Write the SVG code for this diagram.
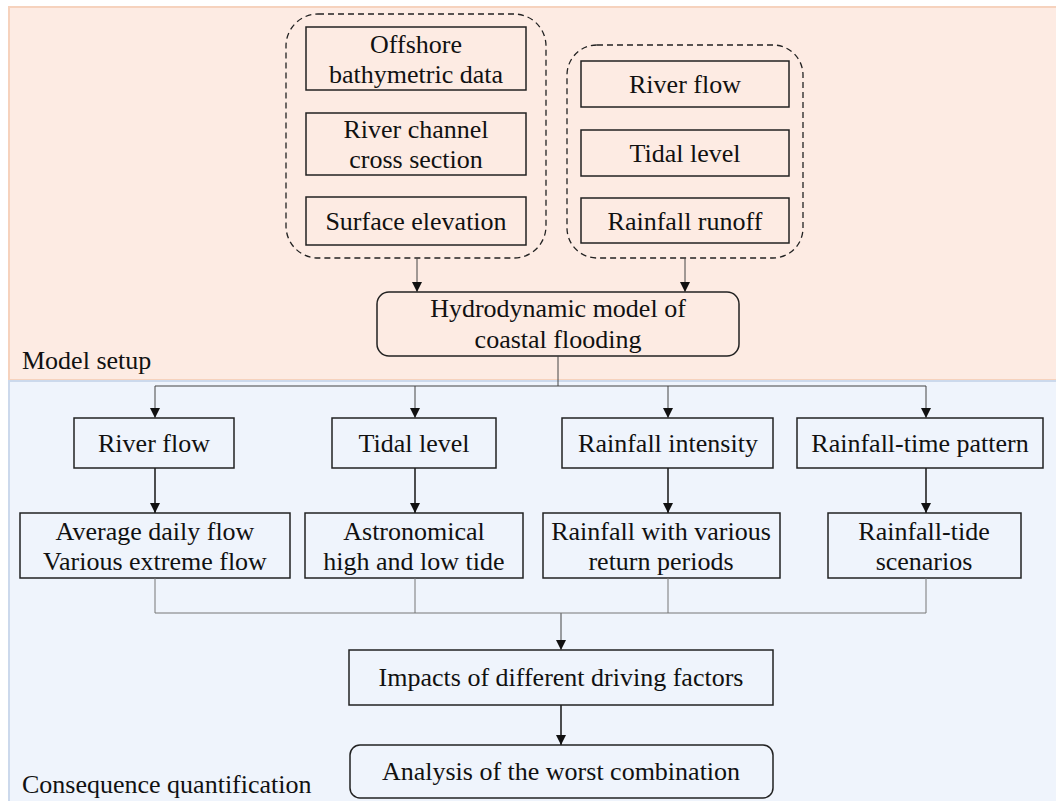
<svg xmlns="http://www.w3.org/2000/svg" width="1056" height="801" viewBox="0 0 1056 801">
<defs>
<marker id="ah" viewBox="0 0 10 10" refX="10" refY="5" markerWidth="10" markerHeight="10" markerUnits="userSpaceOnUse" orient="auto">
<path d="M0,0 L10,5 L0,10 z" fill="#111"/>
</marker>
</defs>
<g id="panels">
<rect x="9" y="7" width="1050" height="373" fill="#fdebe3" stroke="#f6d2bd" stroke-width="2"/>
<rect x="9" y="381" width="1050" height="425" fill="#eff4fc" stroke="#ccd9ec" stroke-width="2"/>
<text x="22" y="369" font-family="Liberation Serif" font-size="26" fill="#111">Model setup</text>
<text x="22" y="793" font-family="Liberation Serif" font-size="26" fill="#111">Consequence quantification</text>
</g>
<g id="nodes" fill="none" stroke="#222" stroke-width="1.5">
<g id="group-left"><rect x="286" y="14" width="260" height="244" rx="32" stroke-width="1.3" stroke-dasharray="6 4"/></g>
<g id="group-right"><rect x="567" y="45" width="236" height="213" rx="30" stroke-width="1.3" stroke-dasharray="6 4"/></g>
<g id="offshore"><rect x="306" y="27" width="220" height="63"/></g>
<g id="channel"><rect x="306" y="113" width="220" height="62"/></g>
<g id="surface"><rect x="306" y="197" width="220" height="48"/></g>
<g id="riverflow-in"><rect x="581" y="61" width="208" height="46"/></g>
<g id="tidal-in"><rect x="581" y="130" width="208" height="46"/></g>
<g id="runoff-in"><rect x="581" y="198" width="208" height="45"/></g>
<g id="hydro"><rect x="377" y="292" width="362" height="64" rx="12"/></g>
<g id="river"><rect x="74" y="418" width="160" height="50"/></g>
<g id="tide"><rect x="332" y="418" width="164" height="50"/></g>
<g id="intensity"><rect x="562" y="418" width="211" height="50"/></g>
<g id="pattern"><rect x="797" y="418" width="246" height="50"/></g>
<g id="avg"><rect x="20" y="513" width="270" height="65"/></g>
<g id="astro"><rect x="305" y="513" width="218" height="65"/></g>
<g id="return"><rect x="543" y="513" width="237" height="65"/></g>
<g id="scen"><rect x="828" y="513" width="193" height="65"/></g>
<g id="impacts"><rect x="349" y="650" width="424" height="55"/></g>
<g id="analysis"><rect x="350" y="745" width="423" height="53" rx="10"/></g>
</g>
<g id="labels">
<text x="416" y="53" font-family="Liberation Serif" font-size="26" fill="#111" text-anchor="middle">Offshore</text>
<text x="416" y="83" font-family="Liberation Serif" font-size="26" fill="#111" text-anchor="middle">bathymetric data</text>
<text x="416" y="138" font-family="Liberation Serif" font-size="26" fill="#111" text-anchor="middle">River channel</text>
<text x="416" y="168" font-family="Liberation Serif" font-size="26" fill="#111" text-anchor="middle">cross section</text>
<text x="416" y="230" font-family="Liberation Serif" font-size="26" fill="#111" text-anchor="middle">Surface elevation</text>
<text x="685" y="93" font-family="Liberation Serif" font-size="26" fill="#111" text-anchor="middle">River flow</text>
<text x="685" y="162" font-family="Liberation Serif" font-size="26" fill="#111" text-anchor="middle">Tidal level</text>
<text x="685" y="230" font-family="Liberation Serif" font-size="26" fill="#111" text-anchor="middle">Rainfall runoff</text>
<text x="558" y="317" font-family="Liberation Serif" font-size="26" fill="#111" text-anchor="middle">Hydrodynamic model of</text>
<text x="558" y="348" font-family="Liberation Serif" font-size="26" fill="#111" text-anchor="middle">coastal flooding</text>
<text x="154" y="452" font-family="Liberation Serif" font-size="26" fill="#111" text-anchor="middle">River flow</text>
<text x="414" y="452" font-family="Liberation Serif" font-size="26" fill="#111" text-anchor="middle">Tidal level</text>
<text x="668" y="452" font-family="Liberation Serif" font-size="26" fill="#111" text-anchor="middle">Rainfall intensity</text>
<text x="920" y="452" font-family="Liberation Serif" font-size="26" fill="#111" text-anchor="middle">Rainfall-time pattern</text>
<text x="155" y="540" font-family="Liberation Serif" font-size="26" fill="#111" text-anchor="middle">Average daily flow</text>
<text x="155" y="570" font-family="Liberation Serif" font-size="26" fill="#111" text-anchor="middle">Various extreme flow</text>
<text x="414" y="540" font-family="Liberation Serif" font-size="26" fill="#111" text-anchor="middle">Astronomical</text>
<text x="414" y="570" font-family="Liberation Serif" font-size="26" fill="#111" text-anchor="middle">high and low tide</text>
<text x="661" y="540" font-family="Liberation Serif" font-size="26" fill="#111" text-anchor="middle">Rainfall with various</text>
<text x="661" y="570" font-family="Liberation Serif" font-size="26" fill="#111" text-anchor="middle">return periods</text>
<text x="924" y="540" font-family="Liberation Serif" font-size="26" fill="#111" text-anchor="middle">Rainfall-tide</text>
<text x="924" y="570" font-family="Liberation Serif" font-size="26" fill="#111" text-anchor="middle">scenarios</text>
<text x="561" y="686" font-family="Liberation Serif" font-size="26" fill="#111" text-anchor="middle">Impacts of different driving factors</text>
<text x="561" y="780" font-family="Liberation Serif" font-size="26" fill="#111" text-anchor="middle">Analysis of the worst combination</text>
</g>
<g id="connectors" fill="none">
<g stroke="#444" stroke-width="1">
<line x1="417" y1="258" x2="417" y2="292" marker-end="url(#ah)"/>
<line x1="685" y1="258" x2="685" y2="292" marker-end="url(#ah)"/>
<polyline points="558,356 558,386"/>
<line x1="155" y1="386" x2="926" y2="386"/>
<line x1="155" y1="386" x2="155" y2="418" marker-end="url(#ah)"/>
<line x1="415" y1="386" x2="415" y2="418" marker-end="url(#ah)"/>
<line x1="668" y1="386" x2="668" y2="418" marker-end="url(#ah)"/>
<line x1="926" y1="386" x2="926" y2="418" marker-end="url(#ah)"/>
<line x1="561" y1="613" x2="561" y2="650" marker-end="url(#ah)"/>
</g>
<g stroke="#222" stroke-width="1.6">
<line x1="155" y1="468" x2="155" y2="513" marker-end="url(#ah)"/>
<line x1="415" y1="468" x2="415" y2="513" marker-end="url(#ah)"/>
<line x1="668" y1="468" x2="668" y2="513" marker-end="url(#ah)"/>
<line x1="926" y1="468" x2="926" y2="513" marker-end="url(#ah)"/>
<line x1="561" y1="705" x2="561" y2="745" marker-end="url(#ah)"/>
</g>
<g stroke="#777" stroke-width="1">
<polyline points="155,578 155,613 926,613 926,578"/>
<line x1="415" y1="578" x2="415" y2="613"/>
<line x1="668" y1="578" x2="668" y2="613"/>
</g>
</g>
</svg>
